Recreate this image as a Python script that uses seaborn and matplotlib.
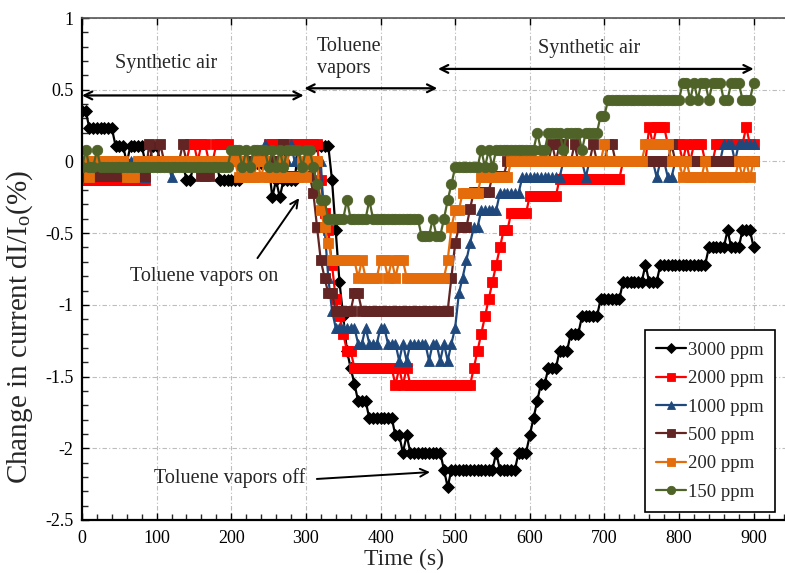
import matplotlib
matplotlib.use("Agg")
import matplotlib.pyplot as plt
import seaborn as sns
import pandas as pd
from matplotlib.ticker import MultipleLocator, FuncFormatter

# ---------------- data (sampled every 5 s, from t = 0 s to 900 s) ----------------
STEP_S = 5

v_3000 = ([0.35]*2 + [0.23]*7 + [0.11]*3 + [-0.01] + [0.11]*4 + [-0.01]*2 + [0.11]*2 +
          [-0.01]*7 + [-0.13]*2 + [-0.01]*7 + [-0.13]*6 + [-0.01]*8 + [-0.25, -0.13, -0.25] +
          [-0.13]*4 + [0.11]*9 + [-0.13, -0.48, -0.84, -1.08, -1.32, -1.44, -1.55] +
          [-1.67]*3 + [-1.79]*7 + [-1.91]*2 + [-2.03] + [-1.91] + [-2.03]*9 + [-2.15] + [-2.27] +
          [-2.15]*12 + [-2.03] + [-2.15]*5 + [-2.03]*3 + [-1.91, -1.79, -1.67] + [-1.55]*2 +
          [-1.44]*3 + [-1.32]*3 + [-1.20]*3 + [-1.08]*5 + [-0.96]*6 + [-0.84]*6 + [-0.72] +
          [-0.84]*3 + [-0.72]*13 + [-0.60]*5 + [-0.48] + [-0.60]*3 + [-0.48]*3 + [-0.60])

v_2000 = ([-0.13]*18 + [0.0]*11 + [0.12]*2 + [0.0] + [0.12]*2 + [0.0]*2 + [0.12]*4 + [0.0]*10 +
          [0.12]*14 + [-0.13, -0.36, -0.48, -0.72, -0.96, -1.08, -1.20] + [-1.32]*2 + [-1.44]*11 +
          [-1.56, -1.44, -1.56, -1.44] + [-1.56]*17 +
          [-1.44, -1.32, -1.20, -1.08, -0.96, -0.84, -0.72, -0.60] + [-0.48]*2 + [-0.36]*5 +
          [-0.24]*8 + [-0.12]*17 + [0.0]*7 + [0.24, 0.12] + [0.24]*3 + [0.12]*4 + [0.0, 0.12, 0.0] +
          [0.12]*3 + [0.0]*3 + [0.12]*8 + [0.24] + [0.12]*2)

v_1000 = ([0.0]*17 + [-0.11] + [0.0]*6 + [-0.11] + [0.0]*24 + [0.12] + [0.0]*6 + [0.12] + [0.0]*8 +
          [-0.46, -0.81, -1.04] + [-1.16]*6 + [-1.27]*2 + [-1.16] + [-1.27]*3 + [-1.16]*2 +
          [-1.27]*3 + [-1.39, -1.27, -1.39] + [-1.27]*5 + [-1.39] + [-1.27]*2 +
          [-1.39, -1.27, -1.39, -1.27] + [-1.16, -0.92, -0.81, -0.69, -0.57] + [-0.46]*2 +
          [-0.34]*5 + [-0.22]*6 + [-0.11]*11 + [0.0]*6 + [-0.11] + [0.0]*18 + [-0.11] + [0.0]*2 +
          [-0.11]*2 + [0.0]*13 + [0.12]*3 + [0.0] + [0.12]*5)

v_500 = ([0.0] + [-0.10]*9 + [0.0]*2 + [-0.10]*6 + [0.12] + [0.0]*2 + [0.12] + [0.0]*5 + [0.12] +
         [0.0]*4 + [-0.10]*3 + [0.0]*18 + [-0.10] + [0.12] + [-0.10]*7 +
         [-0.22, -0.46, -0.69, -0.81] + [-0.92]*2 + [-1.04]*5 + [-0.92]*2 + [-1.04]*24 +
         [-0.81, -0.57] + [-0.46]*3 + [-0.33] + [-0.21]*5 + [-0.10]*4 + [0.0]*12 +
         [0.12, 0.0, 0.12, 0.12] + [0.0]*2 + [0.12] + [0.0]*4 + [0.12] + [0.0]*3 + [0.12]*2 +
         [0.0]*15 + [0.12] + [0.0]*22)

v_200 = ([0.0]*2 + [-0.11] + [0.0]*9 + [-0.11]*3 + [0.0]*27 + [-0.11, 0.0] + [-0.11]*3 +
         [0.0, -0.11, 0.0] + [-0.11]*4 + [0.0] + [-0.11]*4 + [0.0, -0.11] + [0.0]*3 +
         [-0.34, -0.46, -0.57] + [-0.69]*7 + [-0.81, -0.69] + [-0.81]*4 + [-0.69]*2 +
         [-0.81, -0.69, -0.81] + [-0.69]*2 + [-0.81]*11 + [-0.69, -0.46] + [-0.34]*2 +
         [-0.22]*5 + [-0.11]*8 + [0.0]*25 + [0.12] + [0.0]*10 + [0.12]*7 + [0.0]*3 +
         [-0.11, 0.0] + [-0.11]*4 + [0.0] + [-0.11]*8 + [0.0, -0.11, 0.0, -0.11, 0.0])

v_150 = ([-0.04, 0.08] + [-0.04]*2 + [0.08] + [-0.04]*35 + [0.08]*3 + [-0.04, 0.08, -0.04] +
         [0.08]*4 + [-0.04, 0.08, -0.04, 0.08, -0.04] + [0.08]*4 + [-0.04] + [0.08]*2 + [-0.04] +
         [-0.16] + [-0.27]*2 + [-0.40]*5 + [-0.27] + [-0.40]*5 + [-0.27] + [-0.40]*13 +
         [-0.52]*3 + [-0.40] + [-0.52]*2 + [-0.40, -0.27, -0.16] + [-0.04]*7 +
         [0.08, -0.04, 0.08, -0.04] + [0.08]*11 + [0.20] + [0.08]*2 + [0.20]*4 + [0.08] +
         [0.20]*4 + [0.08] + [0.20]*4 + [0.32]*2 + [0.43]*20 + [0.55]*2 + [0.43, 0.55, 0.43] +
         [0.55]*2 + [0.43] + [0.55]*3 + [0.43]*2 + [0.55]*3 + [0.43]*3 + [0.55])

labels = ["3000 ppm", "2000 ppm", "1000 ppm", "500 ppm", "200 ppm", "150 ppm"]
series = [v_3000, v_2000, v_1000, v_500, v_200, v_150]
colors = ["#000000", "#FF0000", "#1F497D", "#632523", "#E46C0A", "#4F6228"]
markers = ["D", "s", "^", "s", "s", "o"]
msizes = [6.0, 7.0, 7.5, 7.0, 7.0, 7.5]

x_ticks = [0, 100, 200, 300, 400, 500, 600, 700, 800, 900]
y_ticks = [-2.5, -2, -1.5, -1, -0.5, 0, 0.5, 1]

# ---------------- style ----------------
sns.set_style("ticks")
plt.rcParams["font.family"] = ["Liberation Serif", "DejaVu Serif"]
plt.rcParams["mathtext.fontset"] = "stix"
plt.rcParams["axes.unicode_minus"] = False

fig = plt.figure(figsize=(7.85, 5.73), dpi=100)
ax = fig.add_axes([82/785, 53/573, 703/785, 502/573])

for lab, vals, col, mk, ms in zip(labels, series, colors, markers, msizes):
    t = [STEP_S * i for i in range(len(vals))]
    df = pd.DataFrame({"Time": t, "Value": vals})
    sns.lineplot(data=df, x="Time", y="Value", ax=ax, color=col, marker=mk,
                 markersize=ms, markeredgecolor=col, markeredgewidth=0.6,
                 linewidth=1.6, label=lab, estimator=None, sort=False)

ax.set_xlim(0, 942)
ax.set_ylim(-2.5, 1)
ax.set_xticks(x_ticks)
ax.set_yticks(y_ticks)
ax.xaxis.set_minor_locator(MultipleLocator(20))
ax.yaxis.set_minor_locator(MultipleLocator(0.1))
ax.yaxis.set_major_formatter(FuncFormatter(lambda v, p: "%g" % v))
ax.tick_params(axis="both", which="major", direction="in", length=5, width=1,
               labelsize=13, colors="black")
ax.tick_params(axis="x", which="major", pad=7)
ax.tick_params(axis="y", which="major", pad=6)
ax.tick_params(axis="both", which="minor", direction="in", length=4, width=1)
ax.tick_params(axis="x", which="major", top=True)
ax.grid(True, which="major", color="#bdbdbd", linestyle=(0, (4, 2, 1, 2)), linewidth=0.8)
ax.set_axisbelow(True)
for s in ["left", "bottom"]:
    ax.spines[s].set_color("black")
    ax.spines[s].set_linewidth(1.6)
ax.spines["top"].set_color("#555555")
ax.spines["top"].set_linewidth(1.2)
ax.spines["right"].set_visible(False)

ax.set_xlabel("Time (s)", fontsize=17)
ax.set_ylabel(r"Change in current dI/I$_\mathregular{o}$(%)", fontsize=21)
ax.xaxis.set_label_coords((404 - 82)/703, -29/502)
ax.yaxis.set_label_coords(-47/703, 0.385)

# ---------------- annotations ----------------
arrow_kw = dict(arrowstyle="<->", color="black", lw=1.6, mutation_scale=14,
                shrinkA=0, shrinkB=0)
ax.annotate("", xy=(297, 0.46), xytext=(0, 0.46), arrowprops=arrow_kw)
ax.annotate("", xy=(476, 0.51), xytext=(298, 0.51), arrowprops=arrow_kw)
ax.annotate("", xy=(900, 0.645), xytext=(477, 0.645), arrowprops=arrow_kw)
ax.text(113, 0.68, "Synthetic air", fontsize=14.5, ha="center", va="center")
ax.text(315, 0.725, "Toluene\nvapors", fontsize=14.5, ha="left", va="center",
        linespacing=1.2)
ax.text(680, 0.785, "Synthetic air", fontsize=14.5, ha="center", va="center")

ax.annotate("", xy=(293, -0.24), xytext=(233, -0.69),
            arrowprops=dict(arrowstyle="->", color="black", lw=1.4, mutation_scale=14))
ax.text(164, -0.80, "Toluene vapors on", fontsize=14.5, ha="center", va="center")
ax.annotate("", xy=(470, -2.165), xytext=(311, -2.215),
            arrowprops=dict(arrowstyle="->", color="black", lw=1.4, mutation_scale=14))
ax.text(198, -2.21, "Toluene vapors off", fontsize=14.5, ha="center", va="center")

leg = ax.legend(loc="lower right", bbox_to_anchor=(0.986, 0.016), borderaxespad=0,
                fontsize=13.5, frameon=True, fancybox=False, edgecolor="black",
                framealpha=1, handlelength=1.6, handletextpad=0.1, labelspacing=0.6,
                markerscale=0.8, borderpad=0.6)
leg.get_frame().set_linewidth(1.2)

fig.savefig("out.png", dpi=100)
